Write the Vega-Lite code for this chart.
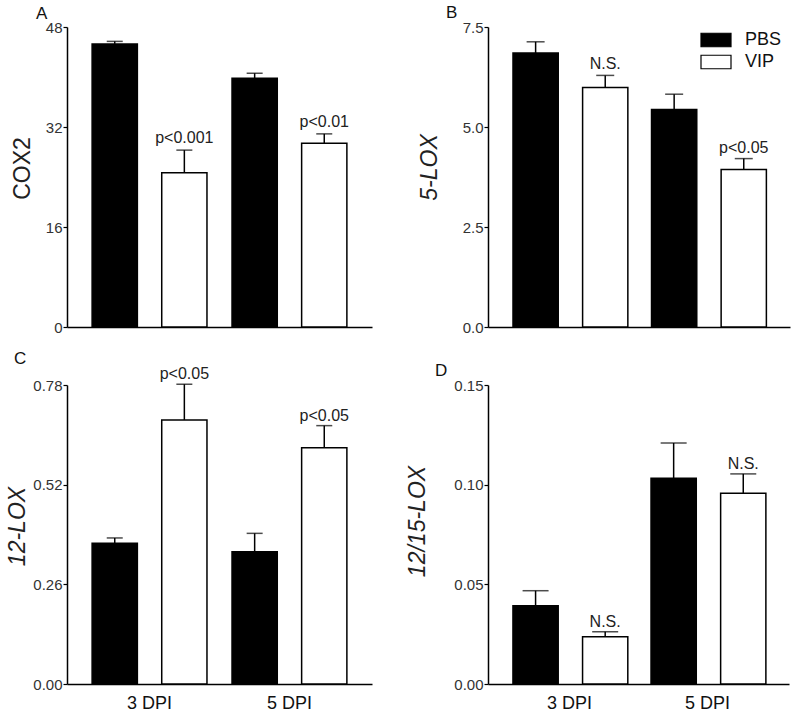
{
  "$schema": "https://vega.github.io/schema/vega-lite/v6.json",
  "padding": {"left": 6, "top": 4, "right": 10, "bottom": 8},
  "background": "white",
  "config": {
    "font": "Liberation Sans",
    "view": {"stroke": null},
    "axis": {"domainColor": "black", "domainWidth": 1.5, "tickColor": "black", "tickWidth": 1.2, "grid": false, "labelFont": "Liberation Sans", "titleFont": "Liberation Sans", "labelColor": "#333", "titleColor": "#222", "titleFontWeight": "normal"},
    "title": {"font": "Liberation Sans", "fontWeight": "normal", "fontSize": 17, "color": "#111", "anchor": "start", "frame": "group", "baseline": "alphabetic"}
  },
  "datasets": {
    "d": [
      {"panel": "A", "dpi": "3 DPI", "group": "PBS", "value": 45.3, "upper": 45.7, "label": ""},
      {"panel": "A", "dpi": "3 DPI", "group": "VIP", "value": 24.7, "upper": 28.3, "label": "p<0.001"},
      {"panel": "A", "dpi": "5 DPI", "group": "PBS", "value": 39.8, "upper": 40.6, "label": ""},
      {"panel": "A", "dpi": "5 DPI", "group": "VIP", "value": 29.4, "upper": 30.9, "label": "p<0.01"},
      {"panel": "B", "dpi": "3 DPI", "group": "PBS", "value": 6.85, "upper": 7.13, "label": ""},
      {"panel": "B", "dpi": "3 DPI", "group": "VIP", "value": 5.99, "upper": 6.29, "label": "N.S."},
      {"panel": "B", "dpi": "5 DPI", "group": "PBS", "value": 5.44, "upper": 5.82, "label": ""},
      {"panel": "B", "dpi": "5 DPI", "group": "VIP", "value": 3.94, "upper": 4.21, "label": "p<0.05"},
      {"panel": "C", "dpi": "3 DPI", "group": "PBS", "value": 0.367, "upper": 0.381, "label": ""},
      {"panel": "C", "dpi": "3 DPI", "group": "VIP", "value": 0.689, "upper": 0.782, "label": "p<0.05"},
      {"panel": "C", "dpi": "5 DPI", "group": "PBS", "value": 0.345, "upper": 0.393, "label": ""},
      {"panel": "C", "dpi": "5 DPI", "group": "VIP", "value": 0.616, "upper": 0.674, "label": "p<0.05"},
      {"panel": "D", "dpi": "3 DPI", "group": "PBS", "value": 0.0393, "upper": 0.0468, "label": ""},
      {"panel": "D", "dpi": "3 DPI", "group": "VIP", "value": 0.0237, "upper": 0.0262, "label": "N.S."},
      {"panel": "D", "dpi": "5 DPI", "group": "PBS", "value": 0.1032, "upper": 0.1209, "label": ""},
      {"panel": "D", "dpi": "5 DPI", "group": "VIP", "value": 0.0957, "upper": 0.1054, "label": "N.S."}
    ]
  },
  "columns": 2,
  "bounds": "flush",
  "spacing": {"row": 58, "column": 116},
  "resolve": {"scale": {"fill": "independent"}, "legend": {"fill": "independent"}},
  "concat": [
    {
      "width": 305, "height": 300,
      "title": {"text": "A", "dx": -31, "offset": -3},
      "data": {"name": "d"},
      "transform": [{"filter": "datum.panel === 'A'"}],
      "encoding": {
        "x": {"field": "dpi", "type": "nominal", "scale": {"domain": ["3 DPI", "5 DPI"], "paddingInner": 0, "paddingOuter": 0.09}, "axis": {"title": null, "labels": false, "ticks": false, "domain": true}},
        "xOffset": {"field": "group", "type": "nominal", "scale": {"domain": ["PBS", "VIP"], "paddingInner": 0.35, "paddingOuter": 0.18}}
      },
      "layer": [
        {"mark": {"type": "bar", "stroke": "black", "strokeWidth": 1.5},
         "encoding": {
           "y": {"field": "value", "type": "quantitative", "scale": {"domain": [0, 48], "nice": false}, "axis": {"values": [0, 16, 32, 48], "title": "COX2", "titleFontSize": 23, "titleX": -45, "titleY": 141, "titleBaseline": "middle", "labelFontSize": 15, "tickSize": 4, "labelPadding": 1}},
           "fill": {"field": "group", "type": "nominal", "scale": {"domain": ["PBS", "VIP"], "range": ["black", "white"]}, "legend": null}
         }},
        {"mark": {"type": "rule", "color": "black", "strokeWidth": 1.5},
         "encoding": {"y": {"field": "value", "type": "quantitative"}, "y2": {"field": "upper"}}},
        {"mark": {"type": "tick", "color": "black", "thickness": 1.5, "size": 16},
         "encoding": {"y": {"field": "upper", "type": "quantitative"}}},
        {"mark": {"type": "text", "fontSize": 16, "baseline": "alphabetic", "dy": -7, "color": "#222"},
         "encoding": {"y": {"field": "upper", "type": "quantitative"}, "text": {"field": "label"}}}
      ]
    },
    {
      "width": 302, "height": 300,
      "title": {"text": "B", "dx": -42, "offset": -2},
      "data": {"name": "d"},
      "transform": [{"filter": "datum.panel === 'B'"}],
      "encoding": {
        "x": {"field": "dpi", "type": "nominal", "scale": {"domain": ["3 DPI", "5 DPI"], "paddingInner": 0, "paddingOuter": 0.09}, "axis": {"title": null, "labels": false, "ticks": false, "domain": true}},
        "xOffset": {"field": "group", "type": "nominal", "scale": {"domain": ["PBS", "VIP"], "paddingInner": 0.35, "paddingOuter": 0.18}}
      },
      "layer": [
        {"mark": {"type": "bar", "stroke": "black", "strokeWidth": 1.5},
         "encoding": {
           "y": {"field": "value", "type": "quantitative", "scale": {"domain": [0, 7.5], "nice": false}, "axis": {"values": [0, 2.5, 5, 7.5], "format": ".1f", "title": "5-LOX", "titleFontStyle": "italic", "titleFontSize": 23, "titleX": -59, "titleY": 140, "titleBaseline": "middle", "labelFontSize": 15, "tickSize": 4, "labelPadding": 1}},
           "fill": {"field": "group", "type": "nominal", "scale": {"domain": ["PBS", "VIP"], "range": ["black", "white"]},
             "legend": {"title": null, "orient": "none", "legendX": 219, "legendY": 4, "symbolType": "M-2,-0.9H2V0.9H-2Z", "symbolSize": 225, "symbolStrokeColor": "black", "symbolStrokeWidth": 1.2, "labelFontSize": 18, "labelColor": "#111", "labelOffset": 20, "rowPadding": 2, "padding": 0}}
         }},
        {"mark": {"type": "rule", "color": "black", "strokeWidth": 1.5},
         "encoding": {"y": {"field": "value", "type": "quantitative"}, "y2": {"field": "upper"}}},
        {"mark": {"type": "tick", "color": "black", "thickness": 1.5, "size": 18},
         "encoding": {"y": {"field": "upper", "type": "quantitative"}}},
        {"mark": {"type": "text", "fontSize": 16, "baseline": "alphabetic", "dy": -6, "color": "#222"},
         "encoding": {"y": {"field": "upper", "type": "quantitative"}, "text": {"field": "label"}}}
      ]
    },
    {
      "width": 305, "height": 299,
      "title": {"text": "C", "dx": -53, "offset": -2},
      "data": {"name": "d"},
      "transform": [{"filter": "datum.panel === 'C'"}],
      "encoding": {
        "x": {"field": "dpi", "type": "nominal", "scale": {"domain": ["3 DPI", "5 DPI"], "paddingInner": 0, "paddingOuter": 0.09}, "axis": {"title": null, "labelAngle": 0, "labelFontSize": 18, "labelColor": "#111", "ticks": false, "tickSize": 0, "labelPadding": 10, "labelBaseline": "top"}},
        "xOffset": {"field": "group", "type": "nominal", "scale": {"domain": ["PBS", "VIP"], "paddingInner": 0.35, "paddingOuter": 0.18}}
      },
      "layer": [
        {"mark": {"type": "bar", "stroke": "black", "strokeWidth": 1.5},
         "encoding": {
           "y": {"field": "value", "type": "quantitative", "scale": {"domain": [0, 0.78], "nice": false}, "axis": {"values": [0, 0.26, 0.52, 0.78], "format": ".2f", "title": "12-LOX", "titleFontStyle": "italic", "titleFontSize": 23, "titleX": -50, "titleY": 141, "titleBaseline": "middle", "labelFontSize": 15, "tickSize": 4, "labelPadding": 1}},
           "fill": {"field": "group", "type": "nominal", "scale": {"domain": ["PBS", "VIP"], "range": ["black", "white"]}, "legend": null}
         }},
        {"mark": {"type": "rule", "color": "black", "strokeWidth": 1.5},
         "encoding": {"y": {"field": "value", "type": "quantitative"}, "y2": {"field": "upper"}}},
        {"mark": {"type": "tick", "color": "black", "thickness": 1.5, "size": 16},
         "encoding": {"y": {"field": "upper", "type": "quantitative"}}},
        {"mark": {"type": "text", "fontSize": 16, "baseline": "alphabetic", "dy": -5, "color": "#222"},
         "encoding": {"y": {"field": "upper", "type": "quantitative"}, "text": {"field": "label"}}}
      ]
    },
    {
      "width": 301, "height": 299,
      "title": {"text": "D", "dx": -53, "offset": -2},
      "data": {"name": "d"},
      "transform": [{"filter": "datum.panel === 'D'"}],
      "encoding": {
        "x": {"field": "dpi", "type": "nominal", "scale": {"domain": ["3 DPI", "5 DPI"], "paddingInner": 0, "paddingOuter": 0.09}, "axis": {"title": null, "labelAngle": 0, "labelFontSize": 18, "labelColor": "#111", "ticks": false, "tickSize": 0, "labelPadding": 10, "labelBaseline": "top"}},
        "xOffset": {"field": "group", "type": "nominal", "scale": {"domain": ["PBS", "VIP"], "paddingInner": 0.35, "paddingOuter": 0.18}}
      },
      "layer": [
        {"mark": {"type": "bar", "stroke": "black", "strokeWidth": 1.5},
         "encoding": {
           "y": {"field": "value", "type": "quantitative", "scale": {"domain": [0, 0.15], "nice": false}, "axis": {"values": [0, 0.05, 0.1, 0.15], "format": ".2f", "title": "12/15-LOX", "titleFontStyle": "italic", "titleFontSize": 23, "titleX": -71, "titleY": 136, "titleBaseline": "middle", "labelFontSize": 15, "tickSize": 4, "labelPadding": 1}},
           "fill": {"field": "group", "type": "nominal", "scale": {"domain": ["PBS", "VIP"], "range": ["black", "white"]}, "legend": null}
         }},
        {"mark": {"type": "rule", "color": "black", "strokeWidth": 1.5},
         "encoding": {"y": {"field": "value", "type": "quantitative"}, "y2": {"field": "upper"}}},
        {"mark": {"type": "tick", "color": "black", "thickness": 1.5, "size": 26},
         "encoding": {"y": {"field": "upper", "type": "quantitative"}}},
        {"mark": {"type": "text", "fontSize": 16, "baseline": "alphabetic", "dy": -5, "color": "#222"},
         "encoding": {"y": {"field": "upper", "type": "quantitative"}, "text": {"field": "label"}}}
      ]
    }
  ]
}
